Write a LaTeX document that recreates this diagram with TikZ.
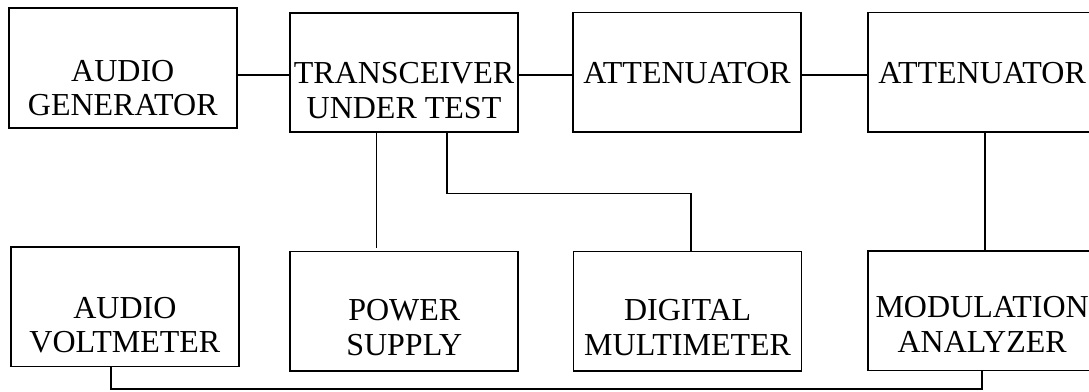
\documentclass[tikz,border=0pt]{standalone}
\usepackage{fontspec}
\setmainfont{Liberation Serif}
\begin{document}
\begin{tikzpicture}[x=1pt,y=-1pt,
  box/.style={draw, line width=1.6pt, inner sep=0pt, minimum width=228pt, minimum height=119.5pt},
  wire/.style={line width=1.6pt},
  lbl/.style={inner sep=0pt, anchor=base, font=\fontsize{32}{35}\selectfont}]
\useasboundingbox (0,0) rectangle (1089,391);
\fill[white] (0,0) rectangle (1089,391);
\clip (0,0) rectangle (1089,391);
% boxes
\node[box] (ag)   at (122.75,68) {};
\node[box] (tx)   at (404,72.45) {};
\node[box] (att1) at (687.05,72.2) {};
\node[box] (att2) at (982.15,72.2) {};
\node[box] (av)   at (124.85,306.7) {};
\node[box] (ps)   at (404.25,311.25) {};
\node[box] (dmm)  at (687.6,311.25) {};
\node[box] (ma)   at (982.15,310.85) {};
% labels
\node[lbl] (ag1) at (122.75,81) {AUDIO};
\node[lbl] (ag2) at (122.75,115) {GENERATOR};
\node[lbl] (tx1) at (404,83.5) {TRANSCEIVER};
\node[lbl] (tx2) at (404,118.3) {UNDER TEST};
\node[lbl] (at1) at (687.05,83.3) {ATTENUATOR};
\node[lbl] (at2) at (982.15,83.3) {ATTENUATOR};
\node[lbl] (av1) at (124.85,318.3) {AUDIO};
\node[lbl] (av2) at (124.85,352) {VOLTMETER};
\node[lbl] (ps1) at (404.25,320) {POWER};
\node[lbl] (ps2) at (404.25,355) {SUPPLY};
\node[lbl] (dm1) at (687.6,320) {DIGITAL};
\node[lbl] (dm2) at (687.6,355) {MULTIMETER};
\node[lbl] (ma1) at (982.15,317.5) {MODULATION};
\node[lbl] (ma2) at (982.15,352) {ANALYZER};
% helper coordinates
\coordinate (topbus) at (0,75);
\coordinate (pwx) at (376.6,0);
\coordinate (dmx1) at (447,0);
\coordinate (dmx2) at (691,0);
\coordinate (dmy) at (0,193.3);
\coordinate (ax) at (985,0);
\coordinate (avx) at (111,0);
\coordinate (maxx) at (981.7,0);
\coordinate (boty) at (0,389);
% connectors
\draw[wire] (ag.east |- topbus) -- (tx.west |- topbus);
\draw[wire] (tx.east |- topbus) -- (att1.west |- topbus);
\draw[wire] (att1.east |- topbus) -- (att2.west |- topbus);
\draw[wire] (tx.south -| pwx) -- ([yshift=3pt]ps.north -| pwx);
\draw[wire] (tx.south -| dmx1) |- (dmx2 |- dmy) -- (dmm.north -| dmx2);
\draw[wire] (att2.south -| ax) -- (ma.north -| ax);
\draw[wire] (av.south -| avx) |- (maxx |- boty) -- (ma.south -| maxx);
\end{tikzpicture}
\end{document}
